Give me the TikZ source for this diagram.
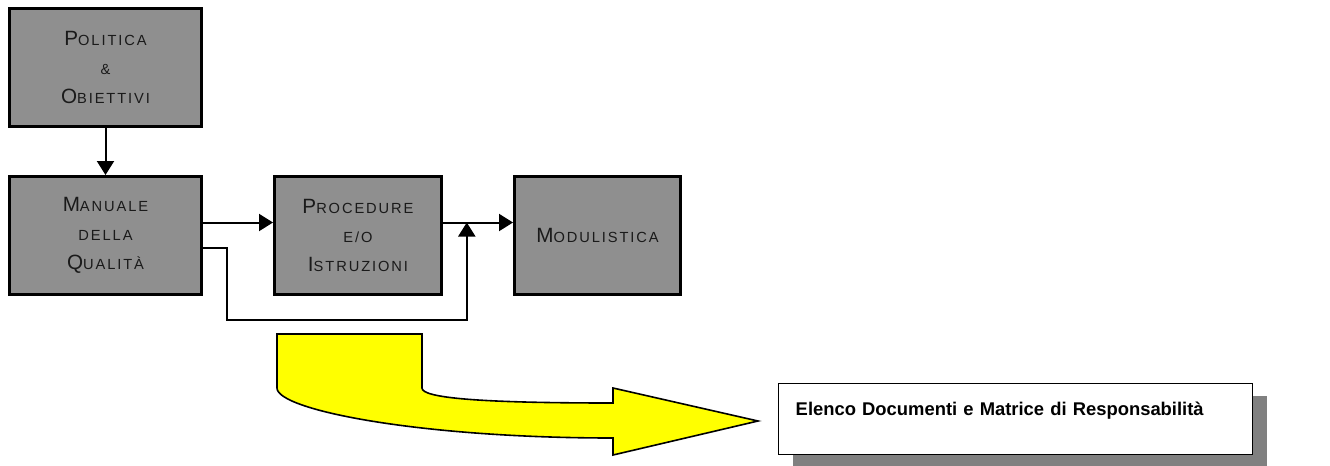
\documentclass[tikz,border=0pt]{standalone}
\usepackage{fontspec}
\setmainfont{Liberation Sans}
\newfontfamily\boxfont[LetterSpace=13]{Liberation Sans}
\usetikzlibrary{arrows.meta,calc,positioning,shadows}
\definecolor{boxgray}{HTML}{8F8F8F}
\definecolor{shadowgray}{HTML}{808080}
\definecolor{arrowyellow}{HTML}{FFFF00}
\definecolor{boxtext}{HTML}{1A1A1A}
\newcommand\capinit[1]{{\fontsize{15.5pt}{21.75pt}\selectfont #1}}

\begin{document}
\begin{tikzpicture}[x=0.75pt, y=-0.75pt,
  docbox/.style={draw=black, line width=2.25pt, fill=boxgray, inner sep=0pt,
                 minimum width=144pt, minimum height=88.5pt, align=center, text=boxtext,
                 font=\boxfont\fontsize{11pt}{21.75pt}\selectfont},
  link/.style={-{Triangle[length=10.5pt,width=12.75pt]}, line width=1.5pt},
  bendarrow/.style={draw=black, line width=1.2pt, fill=arrowyellow, line join=miter},
  listbox/.style={draw=black, line width=1.1pt, fill=white, text width=330pt, align=left,
                  inner xsep=12.75pt, inner ysep=0pt, text height=24pt, text depth=29.25pt,
                  font=\fontsize{13.8pt}{16pt}\selectfont\bfseries,
                  drop shadow={shadow xshift=11pt, shadow yshift=-9pt, fill=shadowgray, opacity=1}},
]
  \useasboundingbox (0,0) rectangle (1330,465);

  % Document levels ---------------------------------------------------------
  \node[docbox] (politica) at (105.5,67.5) {\capinit{P}OLITICA\\\&\\\capinit{O}BIETTIVI};
  \node[docbox, below=35.25pt of politica] (manuale) {\capinit{M}ANUALE\\DELLA\\\capinit{Q}UALITÀ};
  \node[docbox, right=52.5pt of manuale, minimum width=125.25pt] (procedure)
    {\capinit{P}ROCEDURE\\E/O\\\capinit{I}STRUZIONI};
  \node[docbox, right=52.5pt of procedure, minimum width=124.5pt] (modulistica)
    {\capinit{M}ODULISTICA};

  \draw[link] (politica) -- (manuale);
  \draw[link] ([yshift=9.75pt]manuale.east) -- ([yshift=9.75pt]procedure.west);
  \draw[link] ([yshift=9.75pt]procedure.east) -- ([yshift=9.75pt]modulistica.west);
  \coordinate (merge) at ($(procedure.east)!0.34!(modulistica.west)+(0,-13)$);
  \draw[link] ([yshift=-9pt]manuale.east) -| ($(manuale.east)+(24,84)$) -| (merge);

  % Big arrow ---------------------------------------------------------------
  \path[bendarrow] (277,334) -- (422,334) -- (422,388)
    .. controls (422,398) and (480,403) .. (613,403) -- (613,388) -- (758,421)
    -- (613,455) -- (613,438) .. controls (420,438) and (277,410) .. (277,388) -- cycle;

  % List --------------------------------------------------------------------
  \node[listbox, anchor=north west] (elenco) at (778,383)
    {Elenco Documenti e Matrice di Responsabilità};
\end{tikzpicture}
\end{document}
